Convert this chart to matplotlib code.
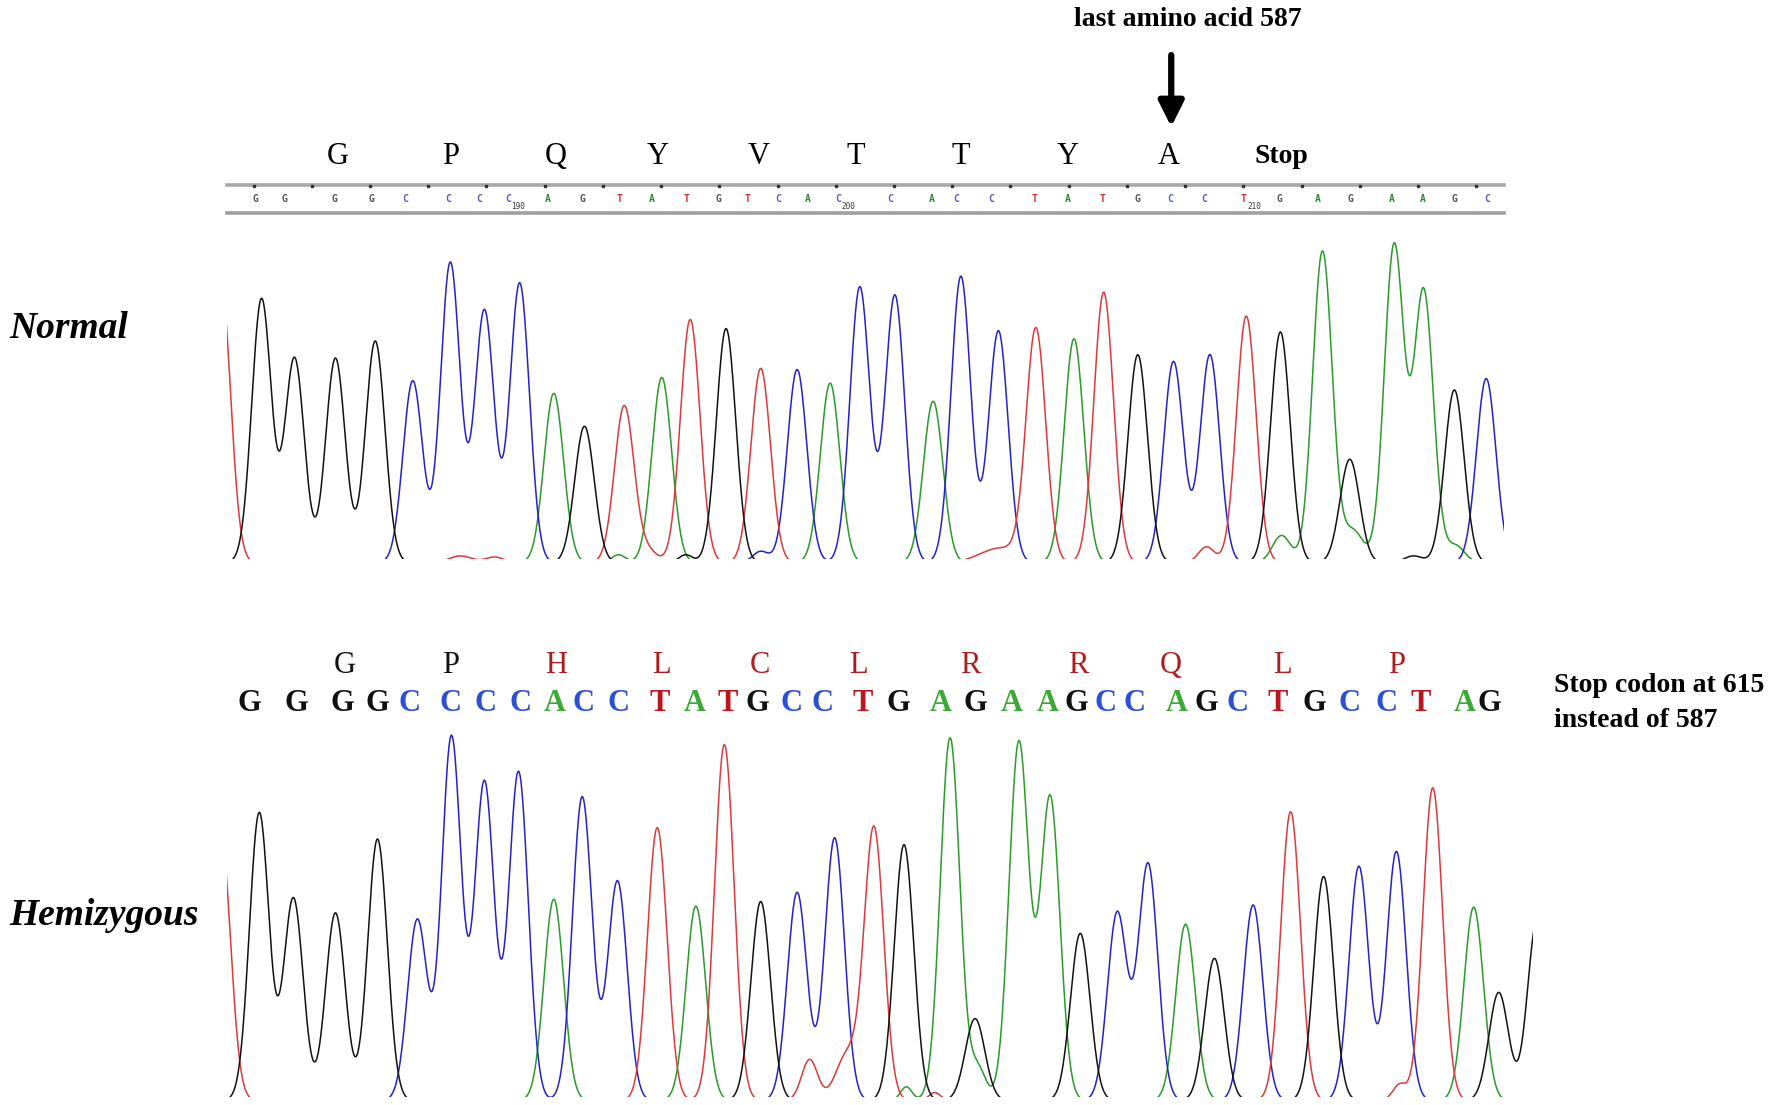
import numpy as np
import matplotlib.pyplot as plt
from matplotlib.patches import Rectangle

# canvas units follow the reference picture (1568 x 972), saved at 1783 x 1105 px
W, H = 1568, 972

# ---- Normal sample ----
normal_seq = "GGGGCCCCAGTATGTCACCACCTATGCCTGAGAAGC"
normal_pos = [230, 259, 295, 330, 363, 396, 426, 457, 487, 514, 549, 582,
              607, 638.5, 669, 701, 730, 756, 787, 820.6, 845, 878, 911, 944.5,
              970.6, 1000.6, 1032, 1064, 1096, 1126, 1163, 1187, 1226, 1252, 1279, 1307]
normal_hgt = [232, 180, 180, 195, 160, 264, 222, 246, 149, 120, 138, 163,
              214, 206, 171, 170, 158, 237, 235, 142, 252, 204, 204, 197,
              238, 183, 177, 183, 217, 203, 274, 91, 279, 239, 152, 162]
# partial peak cut by the left edge and small background bumps
normal_extra_pos = [194, 405, 435, 544, 570, 603, 669, 763, 880, 1061, 1127, 1190, 1243, 1280]
normal_extra_hgt = [250, 6, 5, 7, 10, 7, 10, 7, 13, 14, 24, 28, 6, 15]
normal_extra_base = "TTTATGCCTTAAGA"
normal_extra_wid = [8.6, 10, 8, 6, 8, 6, 7, 10, 18, 7, 8, 9, 8, 8]

normal_aa = ["G", "P", "Q", "Y", "V", "T", "T", "Y", "A"]
normal_aa_x = [297, 396, 489, 578, 667, 753, 845, 939, 1028]

# base call strip above the normal trace
strip_x = [225, 250, 294, 327, 356, 394, 421, 447, 482, 512, 545, 573, 604, 632,
           657, 684, 710, 737, 783, 819, 841, 872, 910, 939, 970, 1000, 1029,
           1059, 1094, 1125, 1159, 1188, 1224, 1251, 1279, 1308]
strip_nums = ["190", "200", "210"]
strip_num_idx = [7, 17, 28]

# ---- Hemizygous sample ----
hemi_seq = "GGGGCCCCACCTATGCCTGAGAAGCCAGCTGCCTAGG"
hemi_pos = [228, 258, 295, 332, 367, 397, 426, 456, 487, 512, 543, 578,
            612, 637, 669, 701, 734, 768.6, 795, 835.5, 857.5, 896, 923.5, 950,
            982.5, 1009.6, 1042.6, 1068, 1102, 1135, 1164, 1195, 1228, 1260, 1296, 1318, 1352]
hemi_hgt = [253, 178, 165, 230, 159, 320, 280, 289, 177, 267, 193, 240,
            171, 313, 175, 183, 231, 239, 225, 319, 72, 315, 267, 147,
            165, 208, 155, 125, 172, 254, 197, 206, 219, 275, 170, 95, 160]
hemi_extra_pos = [194, 712, 745, 797, 822, 860, 1231]
hemi_extra_hgt = [236, 36, 40, 12, 7, 28, 14]
hemi_extra_base = "TTTATAT"
hemi_extra_wid = [8.6, 7, 10, 5, 5, 7, 6]

hemi_letters = list("GGGGCCCCACCTATGCCTGAGAAGCCAGCTGCCTAG")
hemi_letter_x = [219, 261, 301, 332, 360, 396, 427, 458, 488, 513, 544, 580,
                 611, 640, 666, 696, 723, 759, 790, 827, 858, 890, 921, 947,
                 972, 998, 1035, 1061, 1088, 1124, 1156, 1187, 1219, 1249, 1288, 1310]
hemi_aa = ["G", "P", "H", "L", "C", "L", "R", "R", "Q", "L", "P"]
hemi_aa_x = [303, 396, 489, 582, 668, 755, 853, 948, 1030, 1128, 1228]
hemi_aa_mut = [False, False, True, True, True, True, True, True, True, True, True]

TRACE_COL = {"G": "#111111", "C": "#2222c8", "A": "#2a9a2a", "T": "#dc3a3a"}
CALL_COL = {"G": "#111111", "C": "#2b4fd8", "A": "#3aaa35", "T": "#c0141c"}
STRIP_COL = {"G": "#555555", "C": "#5a5ad0", "A": "#2e8b2e", "T": "#d03030"}
SIGMA = 8.6
SERIF = "Liberation Serif"


def signal(xs, pos, hgt, bases, base, wid=None):
    y = np.zeros_like(xs)
    for i, (p, h) in enumerate(zip(pos, hgt)):
        if bases[i] != base:
            continue
        s = SIGMA if wid is None else wid[i]
        y += h * np.exp(-(xs - p) ** 2 / (2 * s * s))
    return y


def draw_traces(ax, x0, x1, baseline, pos, hgt, seq, ex_pos, ex_hgt, ex_base, ex_wid):
    xs = np.arange(x0 - 20, x1 + 20, 0.5)
    clip = Rectangle((x0, 0), x1 - x0, baseline, transform=ax.transData)
    for b in "ACTG":
        s = signal(xs, pos, hgt, seq, b) + signal(xs, ex_pos, ex_hgt, ex_base, b, ex_wid)
        ln, = ax.plot(xs, baseline + 3 - s, color=TRACE_COL[b], lw=1.1)
        ln.set_clip_path(clip)


fig = plt.figure(figsize=(17.83, 11.05), dpi=100)
ax = fig.add_axes([0, 0, 1, 1])
ax.set_xlim(0, W)
ax.set_ylim(H, 0)
ax.axis("off")

# top annotation with arrow
ax.text(1045, 17, "last amino acid 587", family=SERIF, weight="bold",
        fontsize=20, ha="center", va="center")
ax.annotate("", xy=(1030, 114), xytext=(1030, 46),
            arrowprops=dict(arrowstyle="-|>", lw=4.5, color="black", mutation_scale=38))

# normal amino acids
for aa, x in zip(normal_aa, normal_aa_x):
    ax.text(x, 138, aa, family=SERIF, fontsize=22, ha="center", va="center")
ax.text(1127, 138, "Stop", family=SERIF, weight="bold", fontsize=20, ha="center", va="center")

# base call strip
ax.plot([200, 1323], [163, 163], color="#a8a8a8", lw=2.6)
ax.plot([200, 1323], [187, 187], color="#a0a0a0", lw=2.6)
ticks = np.arange(223, 1323, 51.2)
ax.plot(ticks, np.full(len(ticks), 164), ls="none", marker="s", ms=1.6, color="#333333")
for b, x in zip(normal_seq, strip_x):
    ax.text(x, 175, b, family="DejaVu Sans Mono", weight="bold", fontsize=7,
            color=STRIP_COL[b], ha="center", va="center")
for num, i in zip(strip_nums, strip_num_idx):
    ax.text(strip_x[i] + 9, 182, num, family="DejaVu Sans Mono", fontsize=5.5,
            color="#333333", ha="center", va="center")

# normal chromatogram
draw_traces(ax, 200, 1323, 492, normal_pos, normal_hgt, normal_seq,
            normal_extra_pos, normal_extra_hgt, normal_extra_base, normal_extra_wid)
ax.text(8, 289, "Normal", family=SERIF, weight="bold", style="italic",
        fontsize=27, ha="left", va="center")

# hemizygous amino acids and base calls
for aa, x, mut in zip(hemi_aa, hemi_aa_x, hemi_aa_mut):
    ax.text(x, 585, aa, family=SERIF, fontsize=22, ha="center", va="center",
            color="#b01c1c" if mut else "#111111")
for b, x in zip(hemi_letters, hemi_letter_x):
    ax.text(x, 619, b, family=SERIF, weight="bold", fontsize=22,
            color=CALL_COL[b], ha="center", va="center")
ax.text(1367, 603, "Stop codon at 615", family=SERIF, weight="bold",
        fontsize=20, ha="left", va="center")
ax.text(1367, 634, "instead of 587", family=SERIF, weight="bold",
        fontsize=20, ha="left", va="center")

# hemizygous chromatogram
draw_traces(ax, 200, 1348, 965, hemi_pos, hemi_hgt, hemi_seq,
            hemi_extra_pos, hemi_extra_hgt, hemi_extra_base, hemi_extra_wid)
ax.text(8, 805, "Hemizygous", family=SERIF, weight="bold", style="italic",
        fontsize=27, ha="left", va="center")

fig.savefig("out.png", dpi=100)
